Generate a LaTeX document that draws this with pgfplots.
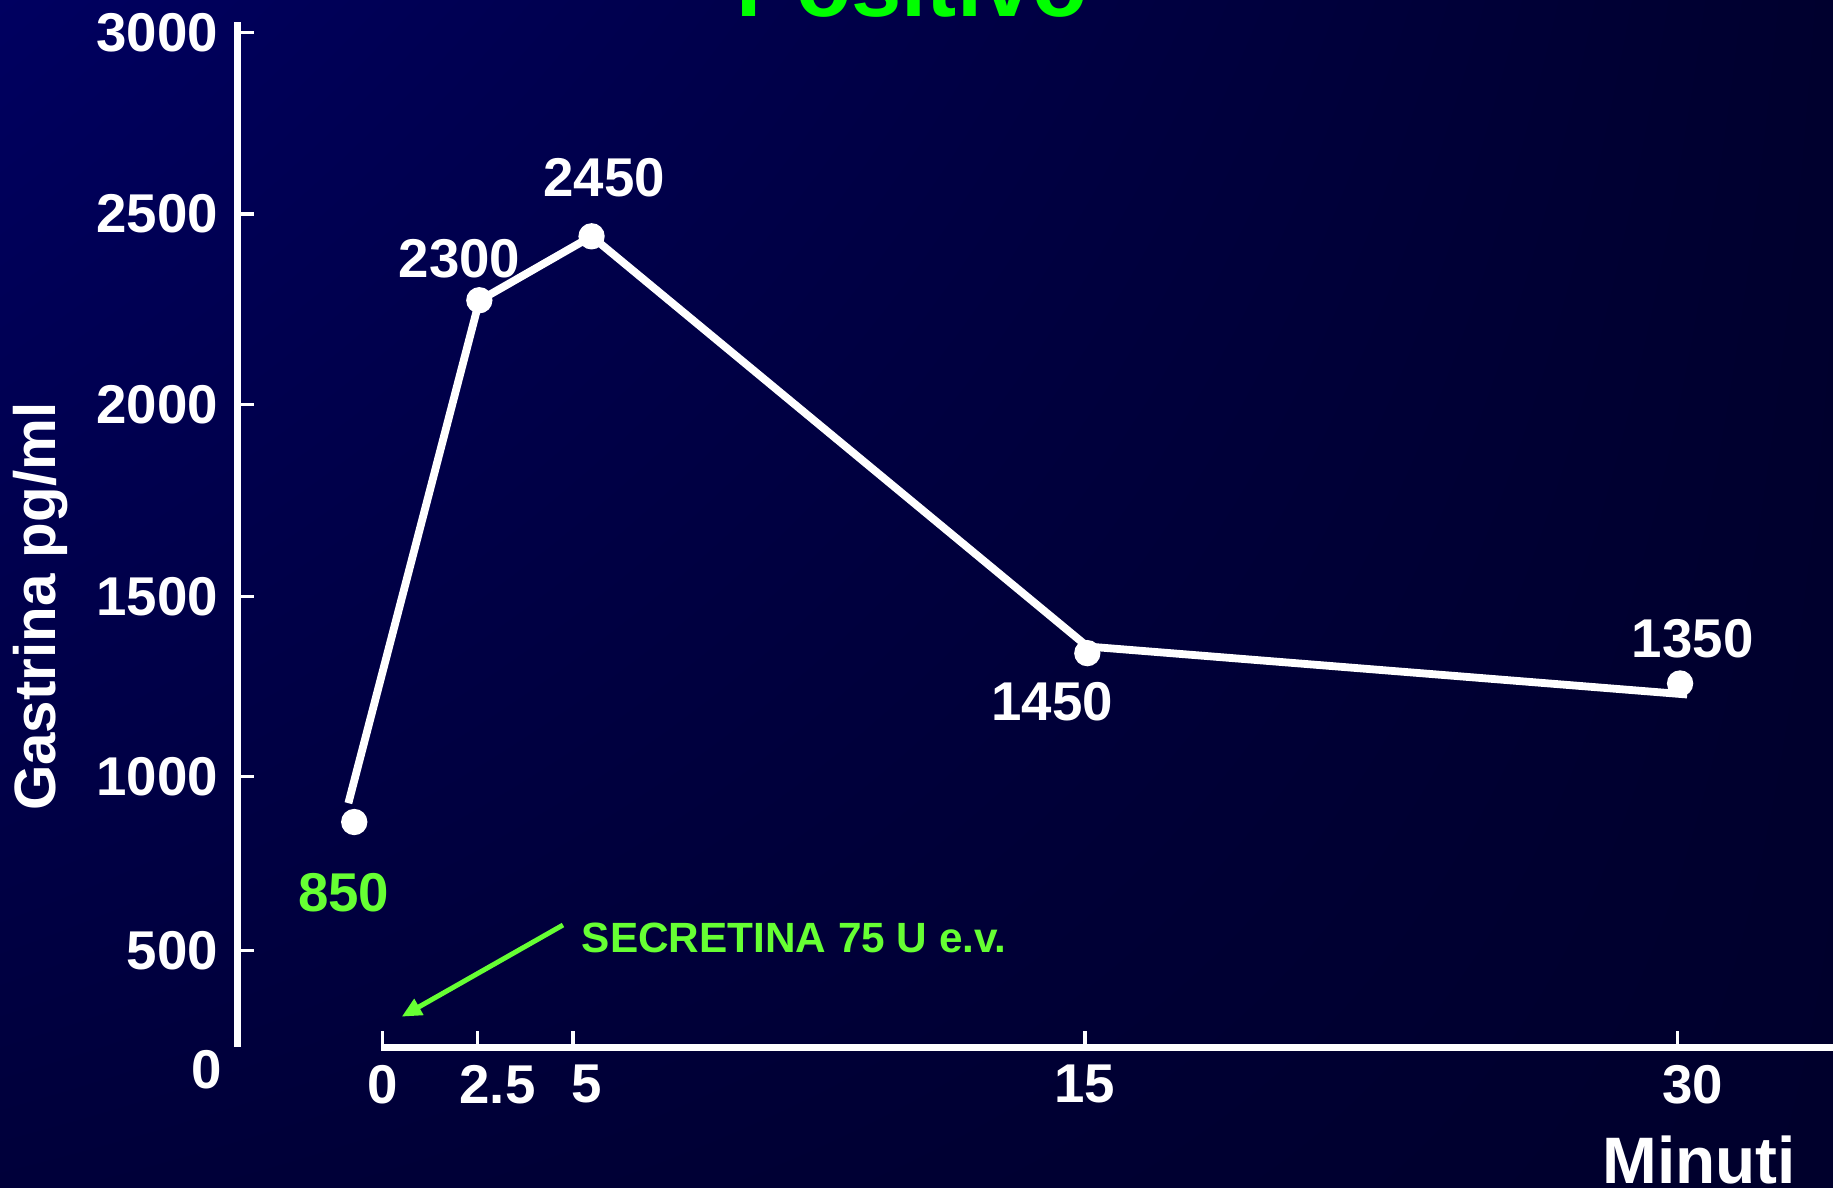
\documentclass[border=0pt]{standalone}
\usepackage{fontspec}
\setmainfont{Liberation Sans}
\usepackage{pgfplots}
\pgfplotsset{compat=1.18}
\usetikzlibrary{arrows.meta,shadings}
\definecolor{bgTL}{RGB}{0,0,96}
\definecolor{bgTR}{RGB}{0,0,46}
\definecolor{bgBL}{RGB}{0,0,58}
\definecolor{bgBR}{RGB}{0,0,44}
\definecolor{titlegreen}{RGB}{0,255,0}
\definecolor{lightgreen}{RGB}{102,255,51}
\newcommand{\numfont}{\fontsize{13.3}{15}\selectfont\bfseries}

\begin{document}
\begin{tikzpicture}
\useasboundingbox (0,0) rectangle (15.68,10.16);
\shade[upper left=bgTL, upper right=bgTR, lower left=bgBL, lower right=bgBR] (0,0) rectangle (15.68,10.16);
\begin{axis}[
  at={(2.03cm,1.20cm)}, anchor=south west,
  scale only axis, width=13.65cm, height=8.775cm,
  x coord trafo/.code={\pgfmathparse{(#1)<=5 ? 32.6*(#1) : ((#1)<=15 ? 163+43.8*((#1)-5) : 601+33.8*((#1)-15))}},
  xmin=-3.804, xmax=33.93, ymin=257, ymax=3033,
  axis line style={draw=none},
  xtick={0,2.5,5,15,30},
  xticklabels={0,{\hspace*{3.4mm}2.5},{\hspace*{2.4mm}5},15,{\hspace*{2.6mm}30}},
  ytick={519,990,1478,1997,2512,3003},
  yticklabels={500,1000,1500,2000,2500,3000},
  xtick pos=bottom, ytick pos=left,
  tick align=inside,
  major tick length=0.14cm,
  tick style={white, line width=0.8pt},
  ticklabel style={font=\numfont, text=white},
  yticklabel style={xshift=-0.4mm},
  xticklabel style={yshift=-0.25mm},
  /pgf/number format/assume math mode=true,
  clip=false,
]
\addplot[white, line width=1.9pt, line join=round, mark=none] coordinates {
  (-0.89,918) (2.546,2278) (5.365,2452) (15.06,1342) (30.24,1212)
};
\addplot[white, only marks, mark=*, mark size=3pt] coordinates {
  (-0.736,867) (2.546,2279) (5.365,2452) (15.06,1324) (30.06,1242)
};
\end{axis}
% axis lines
\draw[white, line width=1.7pt] (2.03,1.204) -- (2.03,9.975);
\draw[white, line width=1.7pt] (3.26,1.20) -- (15.9,1.20);
% labels
\node[white, font=\numfont, inner sep=0] at (1.77,1.01) {0};
\node[white, font=\numfont, inner sep=0] at (3.93,7.95) {2300};
\node[white, font=\numfont, inner sep=0] at (5.17,8.64) {2450};
\node[white, font=\numfont, inner sep=0] at (9.00,4.16) {1450};
\node[white, font=\numfont, inner sep=0] at (14.48,4.70) {1350};
\node[lightgreen, font=\numfont, inner sep=0] at (2.94,2.52) {850};
\node[rotate=90, white, font=\fontsize{14.2}{16}\selectfont\bfseries, inner sep=0] at (0.35,4.97) {Gastrina pg/ml};
\node[anchor=base, inner sep=0, titlegreen, font=\fontsize{22}{26}\selectfont\bfseries] at (7.80,10.023) {Positivo};
\node[anchor=base east, inner sep=0, white, font=\fontsize{16}{19}\selectfont\bfseries] at (15.37,0.04) {Minuti};
\node[anchor=base west, inner sep=0, lightgreen, font=\fontsize{10.3}{12}\selectfont\bfseries] at (4.97,2.01) {SECRETINA 75 U e.v.};
\draw[lightgreen, line width=1.2pt, -{Triangle[length=1.7mm,width=1.5mm]}] (4.816,2.247) -- (3.436,1.463);
\end{tikzpicture}
\end{document}
